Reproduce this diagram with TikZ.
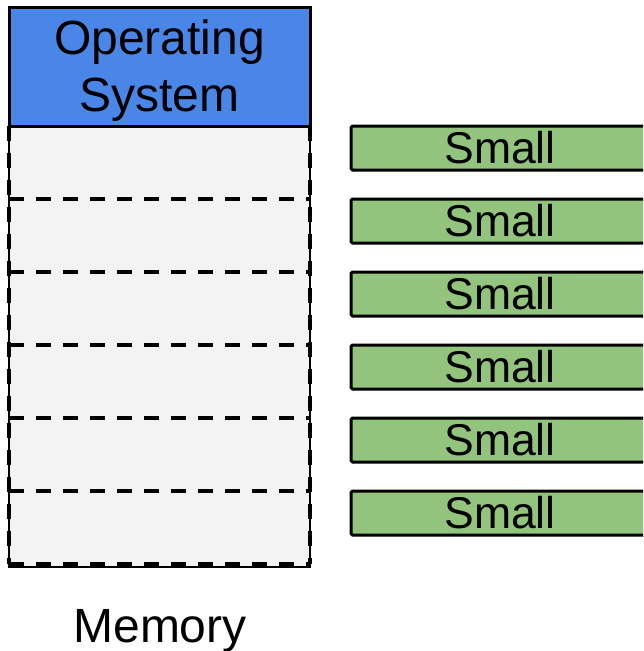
\documentclass[tikz,border=0pt]{standalone}
\usepackage{fontspec}
\setmainfont{Liberation Sans}
\definecolor{osblue}{HTML}{4A86E8}
\definecolor{cellgray}{HTML}{F3F3F3}
\definecolor{smallgreen}{HTML}{93C47D}
\tikzset{
  membox/.style={draw=black, line width=1.5pt, fill=cellgray, inner sep=0pt, outer sep=0pt, anchor=north west, minimum width=301pt, minimum height=560pt},
  osbox/.style={draw=black, line width=3pt, fill=osblue, inner sep=0pt, outer sep=0pt, anchor=north west, minimum width=301pt, minimum height=119pt},
  cellbox/.style={inner sep=0pt, outer sep=0pt, anchor=north west, minimum width=301pt, minimum height=73pt},
  dashline/.style={draw=black, line width=3.5pt, dash pattern=on 15pt off 12pt},
  smallbox/.style={draw=black, line width=3pt, fill=smallgreen, rounded corners=1.5pt, inner sep=0pt, outer sep=0pt, anchor=north west, minimum width=298pt, minimum height=44pt, font=\fontsize{44.5}{44.5}\selectfont},
  bigtext/.style={font=\fontsize{48}{57}\selectfont, align=center, inner sep=0pt}
}
\begin{document}
\begin{tikzpicture}[x=1pt,y=-1pt]
\useasboundingbox (0,0) rectangle (643,651);
\clip (0,0) rectangle (643,651);
\node[membox] (mem) at (9,7) {};
\foreach \i in {0,...,5} {
  \node[cellbox] (cell\i) at (9,{126+73*\i}) {};
  \draw[dashline] (cell\i.north west) -- (cell\i.north east);
}
\draw[dashline] (cell5.south west) -- (cell5.south east);
\draw[dashline] (cell0.north west) -- (cell5.south west);
\draw[dashline] (cell0.north east) -- (cell5.south east);
\node[osbox] (os) at (9,7) {};
\node[bigtext] (ostext) at ([yshift=-4.5pt]os.center) {Operating\\System};
\foreach \i in {0,...,5} {
  \node[smallbox] (small\i) at (351,{126+73*\i}) {Small};
}
\node[font=\fontsize{48}{48}\selectfont, anchor=base, inner sep=0pt] (memlabel) at (160,642) {Memory};
\end{tikzpicture}
\end{document}
